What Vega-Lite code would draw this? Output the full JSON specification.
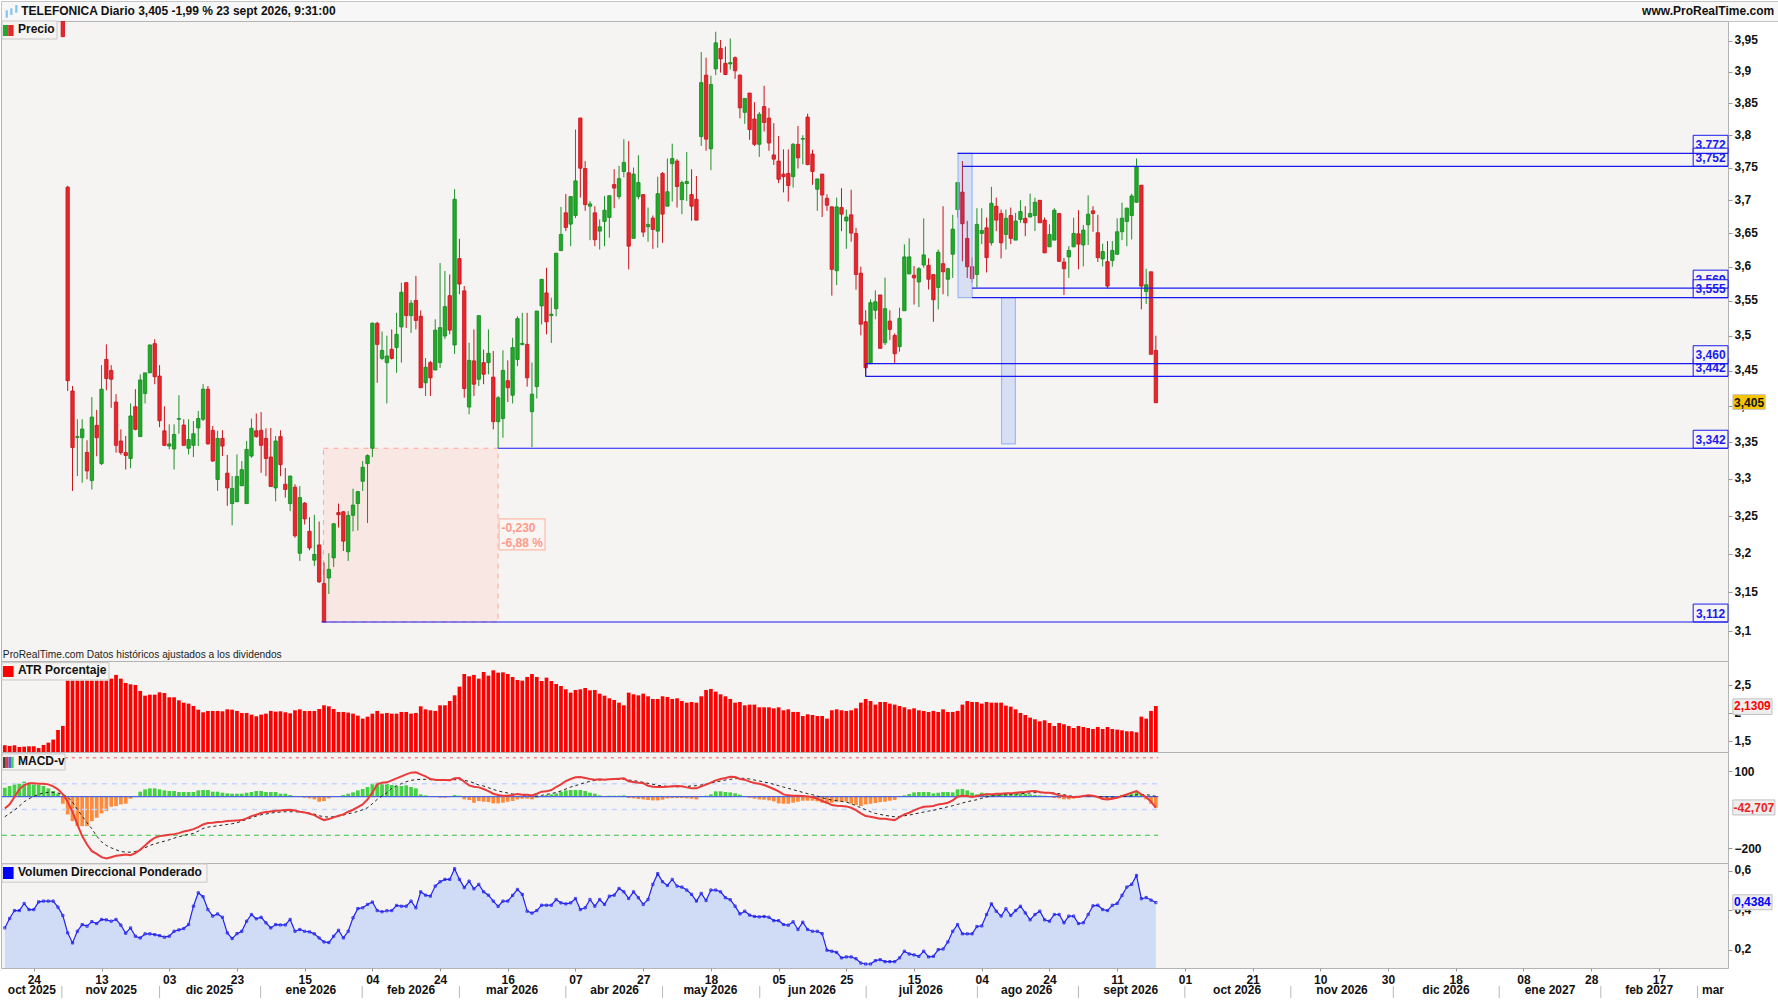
{"$schema":"https://vega.github.io/schema/vega-lite/v6.json","background":"#ffffff","padding":0,"spacing":0,"bounds":"flush","config":{"text":{"font":"Liberation Sans"},"axis":{"labelFont":"Liberation Sans","labelFontWeight":"bold","labelFontSize":12,"labelColor":"#111111","tickColor":"#999999","tickSize":4,"labelPadding":2,"domain":false,"grid":false,"labelBound":false,"labelFlush":false,"labelOverlap":"greedy","labelSeparation":0}},
"datasets":{
"ohlc":[{"i":12,"o":4.05,"h":4.1,"l":3.957,"c":3.957},{"i":13,"o":3.72,"h":3.722,"l":3.4215,"c":3.436},{"i":14,"o":3.4215,"h":3.4285,"l":3.284,"c":3.343},{"i":15,"o":3.357,"h":3.382,"l":3.304,"c":3.358},{"i":16,"o":3.3565,"h":3.382,"l":3.295,"c":3.3685},{"i":17,"o":3.3363,"h":3.353,"l":3.2996,"c":3.311},{"i":18,"o":3.298,"h":3.413,"l":3.286,"c":3.385},{"i":19,"o":3.3736,"h":3.395,"l":3.331,"c":3.3565},{"i":20,"o":3.321,"h":3.458,"l":3.319,"c":3.424},{"i":21,"o":3.4662,"h":3.4876,"l":3.4225,"c":3.439},{"i":22,"o":3.4505,"h":3.458,"l":3.398,"c":3.438},{"i":23,"o":3.406,"h":3.417,"l":3.336,"c":3.346},{"i":24,"o":3.352,"h":3.368,"l":3.333,"c":3.336},{"i":25,"o":3.336,"h":3.359,"l":3.313,"c":3.332},{"i":26,"o":3.328,"h":3.404,"l":3.3147,"c":3.3866},{"i":27,"o":3.3995,"h":3.424,"l":3.3667,"c":3.368},{"i":28,"o":3.358,"h":3.445,"l":3.358,"c":3.437},{"i":29,"o":3.418,"h":3.447,"l":3.404,"c":3.447},{"i":30,"o":3.447,"h":3.4876,"l":3.447,"c":3.4867},{"i":31,"o":3.4886,"h":3.495,"l":3.431,"c":3.4416},{"i":32,"o":3.4425,"h":3.458,"l":3.371,"c":3.38},{"i":33,"o":3.366,"h":3.4,"l":3.345,"c":3.346},{"i":34,"o":3.345,"h":3.375,"l":3.3405,"c":3.348},{"i":35,"o":3.341,"h":3.375,"l":3.313,"c":3.361},{"i":36,"o":3.382,"h":3.4155,"l":3.362,"c":3.383},{"i":37,"o":3.374,"h":3.382,"l":3.345,"c":3.346},{"i":38,"o":3.342,"h":3.382,"l":3.3336,"c":3.354},{"i":39,"o":3.346,"h":3.3796,"l":3.33,"c":3.362},{"i":40,"o":3.37,"h":3.3935,"l":3.345,"c":3.383},{"i":41,"o":3.382,"h":3.431,"l":3.3796,"c":3.424},{"i":42,"o":3.424,"h":3.4285,"l":3.347,"c":3.348},{"i":43,"o":3.3667,"h":3.3727,"l":3.3236,"c":3.3245},{"i":44,"o":3.2995,"h":3.366,"l":3.284,"c":3.3555},{"i":45,"o":3.3555,"h":3.367,"l":3.3313,"c":3.345},{"i":46,"o":3.308,"h":3.333,"l":3.264,"c":3.288},{"i":47,"o":3.267,"h":3.304,"l":3.238,"c":3.2874},{"i":48,"o":3.2694,"h":3.3336,"l":3.2694,"c":3.3036},{"i":49,"o":3.291,"h":3.3245,"l":3.2905,"c":3.3127},{"i":50,"o":3.267,"h":3.352,"l":3.267,"c":3.3405},{"i":51,"o":3.3313,"h":3.383,"l":3.329,"c":3.3694},{"i":52,"o":3.366,"h":3.39,"l":3.3565,"c":3.358},{"i":53,"o":3.3667,"h":3.392,"l":3.3085,"c":3.346},{"i":54,"o":3.3555,"h":3.3694,"l":3.304,"c":3.328},{"i":55,"o":3.33,"h":3.37,"l":3.29,"c":3.29},{"i":56,"o":3.288,"h":3.359,"l":3.27,"c":3.352},{"i":57,"o":3.358,"h":3.3667,"l":3.304,"c":3.3195},{"i":58,"o":3.293,"h":3.315,"l":3.275,"c":3.286},{"i":59,"o":3.267,"h":3.305,"l":3.257,"c":3.304},{"i":60,"o":3.289,"h":3.293,"l":3.2215,"c":3.224},{"i":61,"o":3.201,"h":3.2905,"l":3.191,"c":3.275},{"i":62,"o":3.2676,"h":3.269,"l":3.239,"c":3.2465},{"i":63,"o":3.23,"h":3.2487,"l":3.205,"c":3.208},{"i":64,"o":3.192,"h":3.252,"l":3.1845,"c":3.1996},{"i":65,"o":3.212,"h":3.243,"l":3.1625,"c":3.1637},{"i":66,"o":3.1615,"h":3.189,"l":3.112,"c":3.112},{"i":67,"o":3.1687,"h":3.201,"l":3.148,"c":3.18},{"i":68,"o":3.195,"h":3.241,"l":3.183,"c":3.24},{"i":69,"o":3.255,"h":3.267,"l":3.235,"c":3.252},{"i":70,"o":3.256,"h":3.257,"l":3.204,"c":3.217},{"i":71,"o":3.203,"h":3.257,"l":3.191,"c":3.251},{"i":72,"o":3.2513,"h":3.287,"l":3.23,"c":3.265},{"i":73,"o":3.267,"h":3.284,"l":3.231,"c":3.283},{"i":74,"o":3.297,"h":3.3245,"l":3.284,"c":3.316},{"i":75,"o":3.321,"h":3.3336,"l":3.241,"c":3.332},{"i":76,"o":3.342,"h":3.519,"l":3.33,"c":3.518},{"i":77,"o":3.5178,"h":3.52,"l":3.433,"c":3.4876},{"i":78,"o":3.4676,"h":3.506,"l":3.465,"c":3.479},{"i":79,"o":3.4615,"h":3.5,"l":3.404,"c":3.471},{"i":80,"o":3.4805,"h":3.509,"l":3.466,"c":3.4676},{"i":81,"o":3.483,"h":3.533,"l":3.447,"c":3.502},{"i":82,"o":3.5126,"h":3.577,"l":3.4615,"c":3.563},{"i":83,"o":3.577,"h":3.578,"l":3.511,"c":3.529},{"i":84,"o":3.529,"h":3.5515,"l":3.504,"c":3.547},{"i":85,"o":3.551,"h":3.587,"l":3.509,"c":3.522},{"i":86,"o":3.528,"h":3.5365,"l":3.426,"c":3.426},{"i":87,"o":3.433,"h":3.468,"l":3.4145,"c":3.455},{"i":88,"o":3.4615,"h":3.464,"l":3.4145,"c":3.44},{"i":89,"o":3.451,"h":3.5236,"l":3.451,"c":3.508},{"i":90,"o":3.4615,"h":3.606,"l":3.454,"c":3.5116},{"i":91,"o":3.4995,"h":3.594,"l":3.495,"c":3.542},{"i":92,"o":3.558,"h":3.589,"l":3.502,"c":3.508},{"i":93,"o":3.4867,"h":3.717,"l":3.474,"c":3.7015},{"i":94,"o":3.6125,"h":3.642,"l":3.56,"c":3.575},{"i":95,"o":3.565,"h":3.572,"l":3.412,"c":3.425},{"i":96,"o":3.399,"h":3.49,"l":3.389,"c":3.4648},{"i":97,"o":3.464,"h":3.509,"l":3.4145,"c":3.431},{"i":98,"o":3.438,"h":3.529,"l":3.4285,"c":3.529},{"i":99,"o":3.4615,"h":3.48,"l":3.431,"c":3.445},{"i":100,"o":3.4615,"h":3.509,"l":3.445,"c":3.4747},{"i":101,"o":3.441,"h":3.478,"l":3.368,"c":3.3787},{"i":102,"o":3.3787,"h":3.4145,"l":3.342,"c":3.412},{"i":103,"o":3.383,"h":3.479,"l":3.3565,"c":3.4505},{"i":104,"o":3.436,"h":3.4648,"l":3.406,"c":3.426},{"i":105,"o":3.4155,"h":3.497,"l":3.404,"c":3.483},{"i":106,"o":3.466,"h":3.528,"l":3.4565,"c":3.5246},{"i":107,"o":3.4875,"h":3.533,"l":3.486,"c":3.489},{"i":108,"o":3.4876,"h":3.533,"l":3.4276,"c":3.44},{"i":109,"o":3.3926,"h":3.4615,"l":3.3436,"c":3.417},{"i":110,"o":3.4276,"h":3.5356,"l":3.411,"c":3.5356},{"i":111,"o":3.543,"h":3.582,"l":3.5163,"c":3.582},{"i":112,"o":3.562,"h":3.599,"l":3.502,"c":3.52},{"i":113,"o":3.529,"h":3.555,"l":3.4895,"c":3.531},{"i":114,"o":3.539,"h":3.6205,"l":3.528,"c":3.6205},{"i":115,"o":3.6245,"h":3.69,"l":3.6235,"c":3.6485},{"i":116,"o":3.681,"h":3.7095,"l":3.6535,"c":3.659},{"i":117,"o":3.664,"h":3.7056,"l":3.631,"c":3.7056},{"i":118,"o":3.677,"h":3.809,"l":3.673,"c":3.7296},{"i":119,"o":3.827,"h":3.8275,"l":3.704,"c":3.749},{"i":120,"o":3.7485,"h":3.76,"l":3.684,"c":3.6935},{"i":121,"o":3.691,"h":3.699,"l":3.64,"c":3.6945},{"i":122,"o":3.681,"h":3.691,"l":3.631,"c":3.6406},{"i":123,"o":3.6535,"h":3.671,"l":3.626,"c":3.66},{"i":124,"o":3.668,"h":3.7066,"l":3.631,"c":3.685},{"i":125,"o":3.674,"h":3.707,"l":3.6436,"c":3.707},{"i":126,"o":3.724,"h":3.7475,"l":3.688,"c":3.7186},{"i":127,"o":3.7056,"h":3.7526,"l":3.7015,"c":3.733},{"i":128,"o":3.744,"h":3.794,"l":3.735,"c":3.758},{"i":129,"o":3.742,"h":3.791,"l":3.5965,"c":3.631},{"i":130,"o":3.6426,"h":3.75,"l":3.6426,"c":3.74},{"i":131,"o":3.7056,"h":3.769,"l":3.7015,"c":3.727},{"i":132,"o":3.7087,"h":3.7087,"l":3.6446,"c":3.652},{"i":133,"o":3.66,"h":3.689,"l":3.6376,"c":3.6636},{"i":134,"o":3.673,"h":3.677,"l":3.627,"c":3.656},{"i":135,"o":3.6535,"h":3.736,"l":3.6287,"c":3.71},{"i":136,"o":3.741,"h":3.743,"l":3.636,"c":3.679},{"i":137,"o":3.691,"h":3.764,"l":3.691,"c":3.713},{"i":138,"o":3.756,"h":3.787,"l":3.698,"c":3.764},{"i":139,"o":3.76,"h":3.763,"l":3.689,"c":3.721},{"i":140,"o":3.701,"h":3.73,"l":3.679,"c":3.727},{"i":141,"o":3.7255,"h":3.774,"l":3.699,"c":3.7286},{"i":142,"o":3.7087,"h":3.7475,"l":3.669,"c":3.691},{"i":143,"o":3.7015,"h":3.737,"l":3.67,"c":3.67},{"i":144,"o":3.798,"h":3.932,"l":3.7835,"c":3.883},{"i":145,"o":3.895,"h":3.923,"l":3.776,"c":3.794},{"i":146,"o":3.779,"h":3.894,"l":3.746,"c":3.88},{"i":147,"o":3.905,"h":3.965,"l":3.895,"c":3.947},{"i":148,"o":3.938,"h":3.9515,"l":3.899,"c":3.921},{"i":149,"o":3.914,"h":3.941,"l":3.895,"c":3.896},{"i":150,"o":3.913,"h":3.954,"l":3.904,"c":3.915},{"i":151,"o":3.923,"h":3.925,"l":3.889,"c":3.902},{"i":152,"o":3.895,"h":3.896,"l":3.8265,"c":3.843},{"i":153,"o":3.836,"h":3.858,"l":3.818,"c":3.858},{"i":154,"o":3.8665,"h":3.8665,"l":3.793,"c":3.809},{"i":155,"o":3.8255,"h":3.852,"l":3.7835,"c":3.786},{"i":156,"o":3.786,"h":3.8365,"l":3.7665,"c":3.833},{"i":157,"o":3.845,"h":3.878,"l":3.806,"c":3.82},{"i":158,"o":3.827,"h":3.843,"l":3.776,"c":3.788},{"i":159,"o":3.7695,"h":3.819,"l":3.754,"c":3.763},{"i":160,"o":3.76,"h":3.799,"l":3.726,"c":3.732},{"i":161,"o":3.74,"h":3.778,"l":3.712,"c":3.736},{"i":162,"o":3.741,"h":3.778,"l":3.698,"c":3.7225},{"i":163,"o":3.736,"h":3.788,"l":3.7194,"c":3.786},{"i":164,"o":3.786,"h":3.8146,"l":3.7485,"c":3.765},{"i":165,"o":3.794,"h":3.8,"l":3.755,"c":3.795},{"i":166,"o":3.8285,"h":3.834,"l":3.7536,"c":3.7546},{"i":167,"o":3.771,"h":3.7775,"l":3.7235,"c":3.744},{"i":168,"o":3.7168,"h":3.7326,"l":3.684,"c":3.7326},{"i":169,"o":3.74,"h":3.74,"l":3.6747,"c":3.708},{"i":170,"o":3.703,"h":3.709,"l":3.684,"c":3.6925},{"i":171,"o":3.69,"h":3.691,"l":3.558,"c":3.5966},{"i":172,"o":3.5946,"h":3.704,"l":3.5735,"c":3.69},{"i":173,"o":3.689,"h":3.7184,"l":3.6535,"c":3.679},{"i":174,"o":3.6687,"h":3.686,"l":3.627,"c":3.6747},{"i":175,"o":3.678,"h":3.716,"l":3.6376,"c":3.6505},{"i":176,"o":3.65,"h":3.6585,"l":3.5667,"c":3.589},{"i":177,"o":3.591,"h":3.6005,"l":3.5005,"c":3.5165},{"i":178,"o":3.5201,"h":3.5367,"l":3.442,"c":3.4543},{"i":179,"o":3.46,"h":3.5526,"l":3.46,"c":3.5477},{"i":180,"o":3.5367,"h":3.5658,"l":3.5236,"c":3.5491},{"i":181,"o":3.559,"h":3.559,"l":3.4819,"c":3.4819},{"i":182,"o":3.4899,"h":3.5843,"l":3.4866,"c":3.539},{"i":183,"o":3.5211,"h":3.5367,"l":3.4937,"c":3.5091},{"i":184,"o":3.5004,"h":3.5033,"l":3.4595,"c":3.4742},{"i":185,"o":3.4842,"h":3.5404,"l":3.4771,"c":3.525},{"i":186,"o":3.536,"h":3.6336,"l":3.536,"c":3.615},{"i":187,"o":3.59,"h":3.6426,"l":3.589,"c":3.615},{"i":188,"o":3.588,"h":3.6015,"l":3.545,"c":3.584},{"i":189,"o":3.578,"h":3.6,"l":3.5414,"c":3.5975},{"i":190,"o":3.603,"h":3.6727,"l":3.599,"c":3.618},{"i":191,"o":3.6025,"h":3.613,"l":3.567,"c":3.582},{"i":192,"o":3.589,"h":3.589,"l":3.52,"c":3.552},{"i":193,"o":3.57,"h":3.626,"l":3.538,"c":3.622},{"i":194,"o":3.605,"h":3.691,"l":3.56,"c":3.593},{"i":195,"o":3.582,"h":3.599,"l":3.557,"c":3.5975},{"i":196,"o":3.619,"h":3.678,"l":3.584,"c":3.6565},{"i":197,"o":3.686,"h":3.727,"l":3.674,"c":3.727},{"i":198,"o":3.7125,"h":3.76,"l":3.6085,"c":3.6645},{"i":199,"o":3.6426,"h":3.669,"l":3.584,"c":3.6005},{"i":200,"o":3.6005,"h":3.6145,"l":3.577,"c":3.583},{"i":201,"o":3.589,"h":3.688,"l":3.57,"c":3.6636},{"i":202,"o":3.65,"h":3.688,"l":3.634,"c":3.6545},{"i":203,"o":3.6585,"h":3.674,"l":3.592,"c":3.614},{"i":204,"o":3.636,"h":3.7204,"l":3.632,"c":3.6955},{"i":205,"o":3.691,"h":3.704,"l":3.6535,"c":3.67},{"i":206,"o":3.68,"h":3.686,"l":3.6127,"c":3.636},{"i":207,"o":3.6485,"h":3.686,"l":3.626,"c":3.6727},{"i":208,"o":3.677,"h":3.689,"l":3.634,"c":3.6426},{"i":209,"o":3.64,"h":3.681,"l":3.64,"c":3.6687},{"i":210,"o":3.671,"h":3.7,"l":3.666,"c":3.683},{"i":211,"o":3.6727,"h":3.691,"l":3.646,"c":3.666},{"i":212,"o":3.6747,"h":3.71,"l":3.674,"c":3.68},{"i":213,"o":3.677,"h":3.704,"l":3.6535,"c":3.697},{"i":214,"o":3.7,"h":3.7,"l":3.666,"c":3.666},{"i":215,"o":3.67,"h":3.674,"l":3.621,"c":3.621},{"i":216,"o":3.63,"h":3.6636,"l":3.63,"c":3.6485},{"i":217,"o":3.64,"h":3.688,"l":3.64,"c":3.685},{"i":218,"o":3.68,"h":3.68,"l":3.6075,"c":3.6085},{"i":219,"o":3.6075,"h":3.6135,"l":3.559,"c":3.5975},{"i":220,"o":3.615,"h":3.631,"l":3.584,"c":3.6247},{"i":221,"o":3.63,"h":3.6737,"l":3.6295,"c":3.65},{"i":222,"o":3.6495,"h":3.685,"l":3.5966,"c":3.634},{"i":223,"o":3.6327,"h":3.6627,"l":3.601,"c":3.655},{"i":224,"o":3.663,"h":3.7076,"l":3.6327,"c":3.679},{"i":225,"o":3.684,"h":3.691,"l":3.6525,"c":3.68},{"i":226,"o":3.651,"h":3.678,"l":3.6075,"c":3.614},{"i":227,"o":3.612,"h":3.6347,"l":3.601,"c":3.623},{"i":228,"o":3.608,"h":3.6386,"l":3.5685,"c":3.572},{"i":229,"o":3.6096,"h":3.6386,"l":3.6005,"c":3.6247},{"i":230,"o":3.619,"h":3.6727,"l":3.618,"c":3.6525},{"i":231,"o":3.6525,"h":3.6965,"l":3.64,"c":3.673},{"i":232,"o":3.668,"h":3.689,"l":3.631,"c":3.688},{"i":233,"o":3.677,"h":3.71,"l":3.641,"c":3.7066},{"i":234,"o":3.697,"h":3.764,"l":3.6965,"c":3.7515},{"i":235,"o":3.723,"h":3.723,"l":3.538,"c":3.572},{"i":236,"o":3.564,"h":3.5975,"l":3.546,"c":3.574},{"i":237,"o":3.593,"h":3.593,"l":3.4734,"c":3.4734},{"i":238,"o":3.479,"h":3.5,"l":3.405,"c":3.405}],
"ind":[{"i":0,"a":1.429,"m":-45.5,"s":-78,"h":35.1,"v":0.31},{"i":1,"a":1.417,"m":-29.9,"s":-65,"h":41.6,"v":0.358},{"i":2,"a":1.429,"m":-1.3,"s":-52,"h":48.1,"v":0.398},{"i":3,"a":1.399,"m":28.6,"s":-36.4,"h":50.7,"v":0.398},{"i":4,"a":1.405,"m":45.5,"s":-19.5,"h":58.5,"v":0.434},{"i":5,"a":1.411,"m":52,"s":-7.8,"h":52,"v":0.403},{"i":6,"a":1.411,"m":52,"s":1.3,"h":48.1,"v":0.403},{"i":7,"a":1.381,"m":50.7,"s":9.1,"h":45.5,"v":0.442},{"i":8,"a":1.435,"m":50.7,"s":14.3,"h":41.6,"v":0.446},{"i":9,"a":1.476,"m":48.1,"s":16.9,"h":32.5,"v":0.446},{"i":10,"a":1.53,"m":40.3,"s":16.9,"h":22.1,"v":0.446},{"i":11,"a":1.702,"m":28.6,"s":14.3,"h":11.7,"v":0.415},{"i":12,"a":1.774,"m":9.1,"s":9.1,"h":-27.3,"v":0.373},{"i":13,"a":2.583,"m":-19.5,"s":-1.3,"h":-68.9,"v":0.285},{"i":14,"a":2.583,"m":-58.5,"s":-20.8,"h":-94.9,"v":0.234},{"i":15,"a":2.583,"m":-107.9,"s":-49.4,"h":-114.4,"v":0.293},{"i":16,"a":2.583,"m":-153.4,"s":-75.4,"h":-114.4,"v":0.327},{"i":17,"a":2.583,"m":-185.9,"s":-101.4,"h":-114.4,"v":0.319},{"i":18,"a":2.583,"m":-211.9,"s":-124.8,"h":-94.9,"v":0.342},{"i":19,"a":2.583,"m":-222.3,"s":-153.4,"h":-81.9,"v":0.332},{"i":20,"a":2.583,"m":-235.3,"s":-175.5,"h":-65,"v":0.353},{"i":21,"a":2.583,"m":-240.5,"s":-189.8,"h":-55.9,"v":0.351},{"i":22,"a":2.619,"m":-235.3,"s":-198.9,"h":-39,"v":0.344},{"i":23,"a":2.685,"m":-230.1,"s":-206.7,"h":-36.4,"v":0.353},{"i":24,"a":2.619,"m":-227.5,"s":-213.2,"h":-29.9,"v":0.324},{"i":25,"a":2.542,"m":-224.9,"s":-215.8,"h":-27.3,"v":0.283},{"i":26,"a":2.518,"m":-227.5,"s":-215.8,"h":-7.8,"v":0.31},{"i":27,"a":2.506,"m":-219.7,"s":-213.2,"h":-1.3,"v":0.268},{"i":28,"a":2.399,"m":-206.7,"s":-206.7,"h":19.5,"v":0.259},{"i":29,"a":2.315,"m":-189.8,"s":-198.9,"h":28.6,"v":0.28},{"i":30,"a":2.333,"m":-172.9,"s":-189.8,"h":32.5,"v":0.28},{"i":31,"a":2.333,"m":-159.9,"s":-183.3,"h":32.5,"v":0.276},{"i":32,"a":2.375,"m":-153.4,"s":-178.1,"h":28.6,"v":0.271},{"i":33,"a":2.363,"m":-150.8,"s":-172.9,"h":24.7,"v":0.263},{"i":34,"a":2.286,"m":-148.2,"s":-167.7,"h":22.1,"v":0.268},{"i":35,"a":2.286,"m":-145.6,"s":-161.2,"h":22.1,"v":0.293},{"i":36,"a":2.232,"m":-141.7,"s":-156,"h":18.2,"v":0.3},{"i":37,"a":2.19,"m":-135.2,"s":-150.8,"h":18.2,"v":0.307},{"i":38,"a":2.173,"m":-131.3,"s":-146.9,"h":18.2,"v":0.327},{"i":39,"a":2.131,"m":-126.1,"s":-143,"h":18.2,"v":0.42},{"i":40,"a":2.065,"m":-118.3,"s":-133.9,"h":24.7,"v":0.488},{"i":41,"a":2.018,"m":-107.9,"s":-123.5,"h":26,"v":0.468},{"i":42,"a":2.042,"m":-102.7,"s":-118.3,"h":26,"v":0.403},{"i":43,"a":2.042,"m":-101.4,"s":-115.7,"h":19.5,"v":0.37},{"i":44,"a":2.042,"m":-98.8,"s":-113.1,"h":19.5,"v":0.381},{"i":45,"a":2.036,"m":-97.5,"s":-110.5,"h":15.6,"v":0.364},{"i":46,"a":2.071,"m":-94.9,"s":-107.9,"h":13,"v":0.285},{"i":47,"a":2.065,"m":-93.6,"s":-105.3,"h":11.7,"v":0.256},{"i":48,"a":2.042,"m":-92.3,"s":-101.4,"h":11.7,"v":0.281},{"i":49,"a":2.006,"m":-91,"s":-94.9,"h":11.7,"v":0.293},{"i":50,"a":2.006,"m":-84.5,"s":-88.4,"h":15.6,"v":0.344},{"i":51,"a":1.976,"m":-75.4,"s":-81.9,"h":18.2,"v":0.378},{"i":52,"a":1.946,"m":-70.2,"s":-75.4,"h":22.1,"v":0.356},{"i":53,"a":1.976,"m":-63.7,"s":-70.2,"h":22.1,"v":0.364},{"i":54,"a":1.994,"m":-59.8,"s":-67.6,"h":18.2,"v":0.336},{"i":55,"a":2.042,"m":-57.2,"s":-63.7,"h":18.2,"v":0.31},{"i":56,"a":2.03,"m":-54.6,"s":-61.1,"h":18.2,"v":0.327},{"i":57,"a":2.036,"m":-53.3,"s":-59.8,"h":11.7,"v":0.325},{"i":58,"a":2.018,"m":-52,"s":-58.5,"h":11.7,"v":0.325},{"i":59,"a":2,"m":-50.7,"s":-58.5,"h":6.5,"v":0.353},{"i":60,"a":2.054,"m":-53.3,"s":-58.5,"h":0,"v":0.293},{"i":61,"a":2.071,"m":-58.5,"s":-59.8,"h":0,"v":0.302},{"i":62,"a":2.042,"m":-61.1,"s":-61.1,"h":-3.9,"v":0.293},{"i":63,"a":2.042,"m":-66.3,"s":-63.7,"h":-6.5,"v":0.29},{"i":64,"a":2.042,"m":-71.5,"s":-67.6,"h":-10.4,"v":0.28},{"i":65,"a":2.077,"m":-81.9,"s":-74.1,"h":-19.5,"v":0.259},{"i":66,"a":2.143,"m":-91,"s":-78,"h":-16.9,"v":0.239},{"i":67,"a":2.125,"m":-87.1,"s":-79.3,"h":-6.5,"v":0.236},{"i":68,"a":2.077,"m":-80.6,"s":-78,"h":-1.3,"v":0.268},{"i":69,"a":2.024,"m":-74.1,"s":-75.4,"h":2.6,"v":0.298},{"i":70,"a":2.024,"m":-68.9,"s":-71.5,"h":6.5,"v":0.259},{"i":71,"a":2.012,"m":-58.5,"s":-66.3,"h":11.7,"v":0.293},{"i":72,"a":1.994,"m":-50.7,"s":-62.4,"h":16.9,"v":0.361},{"i":73,"a":1.958,"m":-40.3,"s":-57.2,"h":24.7,"v":0.408},{"i":74,"a":1.905,"m":-29.9,"s":-50.7,"h":29.9,"v":0.412},{"i":75,"a":1.94,"m":-10.4,"s":-42.9,"h":37.7,"v":0.429},{"i":76,"a":1.994,"m":15.6,"s":-27.3,"h":50.7,"v":0.441},{"i":77,"a":2.042,"m":48.1,"s":-10.4,"h":54.6,"v":0.398},{"i":78,"a":1.994,"m":54.6,"s":2.6,"h":52,"v":0.392},{"i":79,"a":2.006,"m":55.9,"s":15.6,"h":50.7,"v":0.397},{"i":80,"a":1.994,"m":63.7,"s":32.5,"h":45.5,"v":0.398},{"i":81,"a":1.994,"m":71.5,"s":42.9,"h":41.6,"v":0.424},{"i":82,"a":2.024,"m":79.3,"s":50.7,"h":41.6,"v":0.42},{"i":83,"a":2.024,"m":87.1,"s":58.5,"h":44.2,"v":0.42},{"i":84,"a":1.994,"m":93.6,"s":63.7,"h":37.7,"v":0.446},{"i":85,"a":2.006,"m":94.9,"s":66.3,"h":32.5,"v":0.412},{"i":86,"a":2.125,"m":87.1,"s":67.6,"h":9.1,"v":0.493},{"i":87,"a":2.071,"m":79.3,"s":67.6,"h":5.2,"v":0.476},{"i":88,"a":2.054,"m":68.9,"s":66.3,"h":1.3,"v":0.471},{"i":89,"a":2.042,"m":66.3,"s":65,"h":0,"v":0.522},{"i":90,"a":2.143,"m":65,"s":63.7,"h":-3.9,"v":0.544},{"i":91,"a":2.143,"m":65,"s":63.7,"h":-3.9,"v":0.556},{"i":92,"a":2.22,"m":63.7,"s":65,"h":-1.3,"v":0.556},{"i":93,"a":2.321,"m":71.5,"s":66.3,"h":6.5,"v":0.61},{"i":94,"a":2.476,"m":72.8,"s":66.3,"h":3.9,"v":0.556},{"i":95,"a":2.702,"m":58.5,"s":63.7,"h":-10.4,"v":0.514},{"i":96,"a":2.661,"m":44.2,"s":59.8,"h":-13,"v":0.547},{"i":97,"a":2.685,"m":39,"s":53.3,"h":-23.4,"v":0.508},{"i":98,"a":2.619,"m":36.4,"s":45.5,"h":-16.9,"v":0.531},{"i":99,"a":2.738,"m":29.9,"s":41.6,"h":-19.5,"v":0.493},{"i":100,"a":2.673,"m":22.1,"s":35.1,"h":-20.8,"v":0.476},{"i":101,"a":2.768,"m":11.7,"s":28.6,"h":-26,"v":0.446},{"i":102,"a":2.726,"m":6.5,"s":22.1,"h":-26,"v":0.419},{"i":103,"a":2.732,"m":3.9,"s":18.2,"h":-23.4,"v":0.446},{"i":104,"a":2.702,"m":3.9,"s":14.3,"h":-19.5,"v":0.446},{"i":105,"a":2.649,"m":6.5,"s":10.4,"h":-16.9,"v":0.475},{"i":106,"a":2.595,"m":10.4,"s":9.1,"h":-10.4,"v":0.505},{"i":107,"a":2.583,"m":7.8,"s":6.5,"h":-7.8,"v":0.48},{"i":108,"a":2.649,"m":7.8,"s":5.2,"h":-7.8,"v":0.395},{"i":109,"a":2.702,"m":5.2,"s":3.9,"h":-10.4,"v":0.385},{"i":110,"a":2.649,"m":11.7,"s":2.6,"h":-3.9,"v":0.398},{"i":111,"a":2.577,"m":19.5,"s":5.2,"h":2.6,"v":0.425},{"i":112,"a":2.637,"m":20.8,"s":9.1,"h":6.5,"v":0.425},{"i":113,"a":2.577,"m":26,"s":11.7,"h":9.1,"v":0.425},{"i":114,"a":2.524,"m":37.7,"s":16.9,"h":13,"v":0.454},{"i":115,"a":2.488,"m":48.1,"s":22.1,"h":19.5,"v":0.437},{"i":116,"a":2.429,"m":61.1,"s":29.9,"h":24.7,"v":0.432},{"i":117,"a":2.369,"m":68.9,"s":37.7,"h":26,"v":0.437},{"i":118,"a":2.417,"m":75.4,"s":42.9,"h":26,"v":0.459},{"i":119,"a":2.429,"m":76.7,"s":49.4,"h":26,"v":0.403},{"i":120,"a":2.452,"m":72.8,"s":54.6,"h":22.1,"v":0.412},{"i":121,"a":2.411,"m":68.9,"s":59.8,"h":15.6,"v":0.454},{"i":122,"a":2.417,"m":66.3,"s":63.7,"h":11.7,"v":0.42},{"i":123,"a":2.351,"m":67.6,"s":65,"h":5.2,"v":0.454},{"i":124,"a":2.315,"m":66.3,"s":66.3,"h":2.6,"v":0.429},{"i":125,"a":2.268,"m":67.6,"s":67.6,"h":3.9,"v":0.471},{"i":126,"a":2.238,"m":68.9,"s":67.6,"h":3.9,"v":0.476},{"i":127,"a":2.19,"m":70.2,"s":67.6,"h":3.9,"v":0.51},{"i":128,"a":2.143,"m":71.5,"s":67.6,"h":5.2,"v":0.493},{"i":129,"a":2.369,"m":59.8,"s":65,"h":-5.2,"v":0.459},{"i":130,"a":2.339,"m":57.2,"s":62.4,"h":-6.5,"v":0.493},{"i":131,"a":2.321,"m":54.6,"s":59.8,"h":-9.1,"v":0.463},{"i":132,"a":2.351,"m":53.3,"s":55.9,"h":-10.4,"v":0.429},{"i":133,"a":2.304,"m":42.9,"s":52,"h":-13,"v":0.454},{"i":134,"a":2.256,"m":39,"s":48.1,"h":-14.3,"v":0.531},{"i":135,"a":2.256,"m":37.7,"s":44.2,"h":-14.3,"v":0.585},{"i":136,"a":2.304,"m":37.7,"s":41.6,"h":-11.7,"v":0.544},{"i":137,"a":2.292,"m":39,"s":40.3,"h":-6.5,"v":0.525},{"i":138,"a":2.256,"m":40.3,"s":39,"h":-5.2,"v":0.556},{"i":139,"a":2.268,"m":41.6,"s":39,"h":-5.2,"v":0.522},{"i":140,"a":2.22,"m":40.3,"s":39,"h":-5.2,"v":0.517},{"i":141,"a":2.19,"m":36.4,"s":40.3,"h":-6.5,"v":0.502},{"i":142,"a":2.202,"m":32.5,"s":41.6,"h":-7.8,"v":0.48},{"i":143,"a":2.19,"m":32.5,"s":42.9,"h":-10.4,"v":0.446},{"i":144,"a":2.304,"m":40.3,"s":45.5,"h":0,"v":0.485},{"i":145,"a":2.417,"m":46.8,"s":49.4,"h":3.9,"v":0.449},{"i":146,"a":2.435,"m":54.6,"s":53.3,"h":9.1,"v":0.502},{"i":147,"a":2.387,"m":63.7,"s":57.2,"h":20.8,"v":0.502},{"i":148,"a":2.339,"m":68.9,"s":61.1,"h":20.8,"v":0.493},{"i":149,"a":2.304,"m":72.8,"s":65,"h":18.2,"v":0.463},{"i":150,"a":2.256,"m":78,"s":67.6,"h":16.9,"v":0.453},{"i":151,"a":2.19,"m":76.7,"s":70.2,"h":13,"v":0.42},{"i":152,"a":2.202,"m":68.9,"s":71.5,"h":7.8,"v":0.381},{"i":153,"a":2.143,"m":66.3,"s":71.5,"h":1.3,"v":0.395},{"i":154,"a":2.155,"m":58.5,"s":68.9,"h":-3.9,"v":0.375},{"i":155,"a":2.155,"m":53.3,"s":65,"h":-7.8,"v":0.368},{"i":156,"a":2.107,"m":50.7,"s":61.1,"h":-10.4,"v":0.366},{"i":157,"a":2.107,"m":45.5,"s":57.2,"h":-11.7,"v":0.368},{"i":158,"a":2.107,"m":37.7,"s":53.3,"h":-14.3,"v":0.364},{"i":159,"a":2.089,"m":29.9,"s":48.1,"h":-18.2,"v":0.347},{"i":160,"a":2.107,"m":20.8,"s":42.9,"h":-26,"v":0.347},{"i":161,"a":2.054,"m":9.1,"s":37.7,"h":-27.3,"v":0.327},{"i":162,"a":2.071,"m":5.2,"s":32.5,"h":-27.3,"v":0.324},{"i":163,"a":2.024,"m":3.9,"s":27.3,"h":-23.4,"v":0.341},{"i":164,"a":2.024,"m":3.9,"s":22.1,"h":-19.5,"v":0.302},{"i":165,"a":1.952,"m":2.6,"s":16.9,"h":-15.6,"v":0.339},{"i":166,"a":1.982,"m":1.3,"s":11.7,"h":-15.6,"v":0.302},{"i":167,"a":1.97,"m":-1.3,"s":7.8,"h":-15.6,"v":0.293},{"i":168,"a":1.952,"m":-7.8,"s":2.6,"h":-18.2,"v":0.293},{"i":169,"a":1.952,"m":-16.9,"s":-3.9,"h":-23.4,"v":0.281},{"i":170,"a":1.905,"m":-23.4,"s":-9.1,"h":-27.3,"v":0.197},{"i":171,"a":2.054,"m":-32.5,"s":-13,"h":-23.4,"v":0.192},{"i":172,"a":2.071,"m":-35.1,"s":-15.6,"h":-19.5,"v":0.186},{"i":173,"a":2.054,"m":-36.4,"s":-18.2,"h":-19.5,"v":0.158},{"i":174,"a":2.042,"m":-37.7,"s":-20.8,"h":-19.5,"v":0.163},{"i":175,"a":2.054,"m":-42.9,"s":-27.3,"h":-27.3,"v":0.163},{"i":176,"a":2.089,"m":-52,"s":-35.1,"h":-32.5,"v":0.154},{"i":177,"a":2.19,"m":-65,"s":-42.9,"h":-36.4,"v":0.132},{"i":178,"a":2.256,"m":-75.4,"s":-50.7,"h":-29.9,"v":0.127},{"i":179,"a":2.22,"m":-78,"s":-58.5,"h":-27.3,"v":0.127},{"i":180,"a":2.155,"m":-81.9,"s":-65,"h":-24.7,"v":0.144},{"i":181,"a":2.202,"m":-85.8,"s":-68.9,"h":-20.8,"v":0.149},{"i":182,"a":2.202,"m":-85.8,"s":-72.8,"h":-19.5,"v":0.139},{"i":183,"a":2.173,"m":-88.4,"s":-75.4,"h":-15.6,"v":0.139},{"i":184,"a":2.155,"m":-91,"s":-78,"h":-13,"v":0.139},{"i":185,"a":2.131,"m":-79.3,"s":-76.7,"h":0,"v":0.158},{"i":186,"a":2.107,"m":-68.9,"s":-74.1,"h":5.2,"v":0.192},{"i":187,"a":2.071,"m":-62.4,"s":-71.5,"h":10.4,"v":0.178},{"i":188,"a":2.089,"m":-53.3,"s":-67.6,"h":16.9,"v":0.173},{"i":189,"a":2.054,"m":-45.5,"s":-63.7,"h":18.2,"v":0.166},{"i":190,"a":2.042,"m":-39,"s":-59.8,"h":18.2,"v":0.192},{"i":191,"a":2.024,"m":-37.7,"s":-55.9,"h":18.2,"v":0.163},{"i":192,"a":2.042,"m":-36.4,"s":-53.3,"h":13,"v":0.166},{"i":193,"a":2.024,"m":-29.9,"s":-48.1,"h":15.6,"v":0.2},{"i":194,"a":2.071,"m":-27.3,"s":-44.2,"h":18.2,"v":0.203},{"i":195,"a":2.024,"m":-23.4,"s":-39,"h":18.2,"v":0.239},{"i":196,"a":2.024,"m":-14.3,"s":-35.1,"h":16.9,"v":0.293},{"i":197,"a":2.042,"m":0,"s":-29.9,"h":28.6,"v":0.327},{"i":198,"a":2.155,"m":3.9,"s":-24.7,"h":29.9,"v":0.28},{"i":199,"a":2.22,"m":2.6,"s":-19.5,"h":24.7,"v":0.28},{"i":200,"a":2.202,"m":-1.3,"s":-15.6,"h":15.6,"v":0.28},{"i":201,"a":2.202,"m":2.6,"s":-11.7,"h":9.1,"v":0.317},{"i":202,"a":2.173,"m":6.5,"s":-6.5,"h":15.6,"v":0.32},{"i":203,"a":2.202,"m":9.1,"s":-1.3,"h":13,"v":0.378},{"i":204,"a":2.19,"m":9.1,"s":2.6,"h":9.1,"v":0.432},{"i":205,"a":2.19,"m":11.7,"s":5.2,"h":10.4,"v":0.395},{"i":206,"a":2.19,"m":11.7,"s":6.5,"h":11.7,"v":0.37},{"i":207,"a":2.137,"m":13,"s":7.8,"h":10.4,"v":0.407},{"i":208,"a":2.119,"m":13,"s":9.1,"h":11.7,"v":0.373},{"i":209,"a":2.071,"m":15.6,"s":10.4,"h":11.7,"v":0.398},{"i":210,"a":2.006,"m":16.9,"s":11.7,"h":13,"v":0.42},{"i":211,"a":1.97,"m":18.2,"s":13,"h":11.7,"v":0.386},{"i":212,"a":1.923,"m":20.8,"s":14.3,"h":9.1,"v":0.351},{"i":213,"a":1.893,"m":22.1,"s":15.6,"h":6.5,"v":0.378},{"i":214,"a":1.857,"m":18.2,"s":15.6,"h":5.2,"v":0.395},{"i":215,"a":1.875,"m":15.6,"s":15.6,"h":3.9,"v":0.351},{"i":216,"a":1.827,"m":15.6,"s":15.6,"h":-1.3,"v":0.344},{"i":217,"a":1.774,"m":11.7,"s":14.3,"h":-5.2,"v":0.378},{"i":218,"a":1.827,"m":5.2,"s":11.7,"h":-6.5,"v":0.378},{"i":219,"a":1.804,"m":2.6,"s":7.8,"h":-10.4,"v":0.336},{"i":220,"a":1.774,"m":0,"s":3.9,"h":-10.4,"v":0.37},{"i":221,"a":1.738,"m":-1.3,"s":1.3,"h":-7.8,"v":0.37},{"i":222,"a":1.774,"m":0,"s":1.3,"h":-5.2,"v":0.332},{"i":223,"a":1.756,"m":2.6,"s":1.3,"h":0,"v":0.336},{"i":224,"a":1.738,"m":5.2,"s":1.3,"h":5.2,"v":0.378},{"i":225,"a":1.72,"m":3.9,"s":1.3,"h":1.3,"v":0.422},{"i":226,"a":1.756,"m":-1.3,"s":1.3,"h":-5.2,"v":0.425},{"i":227,"a":1.72,"m":-9.1,"s":0,"h":-7.8,"v":0.403},{"i":228,"a":1.756,"m":-10.4,"s":-1.3,"h":-10.4,"v":0.398},{"i":229,"a":1.72,"m":-7.8,"s":-1.3,"h":-6.5,"v":0.425},{"i":230,"a":1.708,"m":-3.9,"s":-1.3,"h":-1.3,"v":0.434},{"i":231,"a":1.696,"m":2.6,"s":0,"h":6.5,"v":0.475},{"i":232,"a":1.679,"m":9.1,"s":1.3,"h":9.1,"v":0.517},{"i":233,"a":1.679,"m":15.6,"s":3.9,"h":11.7,"v":0.531},{"i":234,"a":1.661,"m":22.1,"s":7.8,"h":19.5,"v":0.576},{"i":235,"a":1.94,"m":9.1,"s":9.1,"h":9.1,"v":0.458},{"i":236,"a":1.905,"m":-1.3,"s":7.8,"h":-10.4,"v":0.464},{"i":237,"a":2.042,"m":-19.5,"s":5.2,"h":-27.3,"v":0.451},{"i":238,"a":2.1309,"m":-42.707,"s":1.3,"h":-42.707,"v":0.4384}],
"levelsA":[{"i0":197,"level":3.772,"top":3.8,"mid":3.785,"t":"3,772"},{"i0":200,"level":3.569,"top":3.5954,"mid":3.581,"t":"3,569"},{"i0":178,"level":3.442,"top":3.4675,"mid":3.454,"t":"3,442"}],
"levelsB":[{"i0":198,"level":3.752,"top":3.78,"mid":3.765,"t":"3,752"},{"i0":200,"level":3.555,"top":3.5813,"mid":3.567,"t":"3,555"},{"i0":178,"level":3.46,"top":3.4856,"mid":3.472,"t":"3,460"},{"i0":102,"level":3.342,"top":3.3668,"mid":3.3535,"t":"3,342"},{"i0":65.5,"level":3.112,"top":3.135,"mid":3.1227,"t":"3,112"}],
"months":[{"i":5.6,"t":"oct 2025"},{"i":22,"t":"nov 2025"},{"i":42.3,"t":"dic 2025"},{"i":63.3,"t":"ene 2026"},{"i":84,"t":"feb 2026"},{"i":104.9,"t":"mar 2026"},{"i":126.1,"t":"abr 2026"},{"i":145.9,"t":"may 2026"},{"i":166.9,"t":"jun 2026"},{"i":189.4,"t":"jul 2026"},{"i":211.3,"t":"ago 2026"},{"i":232.8,"t":"sept 2026"},{"i":254.8,"t":"oct 2026"},{"i":276.5,"t":"nov 2026"},{"i":298,"t":"dic 2026"},{"i":319.5,"t":"ene 2027"},{"i":340,"t":"feb 2027"},{"i":353.2,"t":"mar"}],
"seps":[{"i":11.8},{"i":32},{"i":52.9},{"i":73.9},{"i":94},{"i":116},{"i":136},{"i":156.1},{"i":178.1},{"i":201.1},{"i":222},{"i":244},{"i":265.9},{"i":287.1},{"i":309},{"i":330},{"i":350}],
"icon":[{"x":0.4,"y0":9.3,"y1":16.7},{"x":1.35,"y0":7.3,"y1":14},{"x":2.38,"y0":4,"y1":11.7}]
},
"vconcat":[
{"width":1778,"height":20,"view":{"fill":"#f7f7f7","stroke":"#c4c4c4"},"layer":[
{"data":{"name":"icon"},"mark":{"type":"rule","color":"#7fc4f5","strokeWidth":2.2},"encoding":{"x":{"field":"x","type":"quantitative","scale":{"domain":[-0.786,366.8],"nice":false,"zero":false},"axis":null},"y":{"field":"y0","type":"quantitative","scale":{"domain":[20,0],"nice":false,"zero":false},"axis":null},"y2":{"field":"y1"}}},
{"data":{"values":[{"t":"TELEFONICA Diario 3,405 -1,99 % 23 sept 2026, 9:31:00"}]},"mark":{"type":"text","align":"left","baseline":"middle","fontWeight":"bold","fontSize":12,"color":"#111111"},"encoding":{"x":{"datum":3.4,"axis":null},"y":{"datum":9.7,"axis":null},"text":{"field":"t"}}},
{"data":{"values":[{"t":"www.ProRealTime.com"}]},"mark":{"type":"text","align":"right","baseline":"middle","fontWeight":"bold","fontSize":12,"color":"#111111"},"encoding":{"x":{"datum":365.8,"axis":null},"y":{"datum":9.7,"axis":null},"text":{"field":"t"}}}
]},
{"width":1727,"height":640,"view":{"fill":"#f5f4f2","stroke":"#b4b4b4"},"layer":[
{"data":{"values":[{"p":1}]},"mark":{"type":"rect","fill":"#f8e7e3","stroke":"#ffa898","strokeWidth":1,"strokeDash":[5,5]},"encoding":{"x":{"datum":65.9,"scale":{"domain":[-0.786,356.3],"nice":false,"zero":false,"padding":0},"axis":null},"x2":{"datum":102},"y":{"datum":3.342,"scale":{"type":"log","domain":[3.0626,3.9825],"nice":false,"padding":0},"axis":{"title":null,"orient":"right","labelOverlap":"greedy","labelOffset":-1.2,"values":[3.1,3.15,3.2,3.25,3.3,3.35,3.4,3.45,3.5,3.55,3.6,3.65,3.7,3.75,3.8,3.85,3.9,3.95],"labelExpr":"replace(format(datum.value,'.2~f'),'.',',')"}},"y2":{"datum":3.112}}},
{"data":{"name":"ohlc"},"mark":{"type":"rule","strokeWidth":1,"clip":true},"encoding":{"x":{"field":"i","type":"quantitative","axis":null},"y":{"field":"h","type":"quantitative"},"y2":{"field":"l"},"color":{"condition":{"test":"datum.c>=datum.o","value":"#1f8f28"},"value":"#c8141c"}}},
{"data":{"name":"ohlc"},"mark":{"type":"bar","orient":"vertical","size":3.4,"strokeWidth":0.8,"clip":true},"encoding":{"x":{"field":"i","type":"quantitative","axis":null},"y":{"field":"o","type":"quantitative"},"y2":{"field":"c"},"fill":{"condition":{"test":"datum.c>=datum.o","value":"#22a82a"},"value":"#e6282c"},"stroke":{"condition":{"test":"datum.c>=datum.o","value":"#118a1a"},"value":"#c8101a"}}},
{"data":{"values":[{"x":197.1,"x2":200,"y":3.772,"y2":3.555},{"x":206.1,"x2":208.95,"y":3.555,"y2":3.348}]},"mark":{"type":"rect","fill":"#2255ff","fillOpacity":0.13,"stroke":"#9ab8f8","strokeWidth":1.2},"encoding":{"x":{"field":"x","type":"quantitative","axis":null},"x2":{"field":"x2"},"y":{"field":"y","type":"quantitative"},"y2":{"field":"y2"}}},
{"data":{"name":"levelsA"},"mark":{"type":"rect","fill":"#f5f4f2","stroke":"#1a1af0","strokeWidth":1},"encoding":{"x":{"datum":349.1,"axis":null},"x2":{"datum":356.3},"y":{"field":"level","type":"quantitative"},"y2":{"field":"top"}}},
{"data":{"name":"levelsA"},"mark":{"type":"text","fontWeight":"bold","fontSize":12,"color":"#1a1af0","baseline":"middle"},"encoding":{"x":{"datum":352.7,"axis":null},"y":{"field":"mid","type":"quantitative"},"text":{"field":"t"}}},
{"data":{"name":"levelsB"},"mark":{"type":"rect","fill":"#f5f4f2","stroke":"#1a1af0","strokeWidth":1},"encoding":{"x":{"datum":349.1,"axis":null},"x2":{"datum":356.3},"y":{"field":"level","type":"quantitative"},"y2":{"field":"top"}}},
{"data":{"name":"levelsB"},"mark":{"type":"text","fontWeight":"bold","fontSize":12,"color":"#1a1af0","baseline":"middle"},"encoding":{"x":{"datum":352.7,"axis":null},"y":{"field":"mid","type":"quantitative"},"text":{"field":"t"}}},
{"data":{"name":"levelsA"},"mark":{"type":"rule","color":"#1a1af0","strokeWidth":1.2},"encoding":{"x":{"field":"i0","type":"quantitative","axis":null},"x2":{"datum":356.3},"y":{"field":"level","type":"quantitative"}}},
{"data":{"name":"levelsB"},"mark":{"type":"rule","color":"#1a1af0","strokeWidth":1.2},"encoding":{"x":{"field":"i0","type":"quantitative","axis":null},"x2":{"datum":356.3},"y":{"field":"level","type":"quantitative"}}},
{"data":{"values":[{"p":1}]},"mark":{"type":"rule","color":"#1a1af0","strokeWidth":1.2},"encoding":{"x":{"datum":178,"axis":null},"y":{"datum":3.442},"y2":{"datum":3.46}}},
{"data":{"values":[{"p":1}]},"mark":{"type":"rect","fill":"#f9f5f3","stroke":"#ffb9a8","strokeWidth":1.2},"encoding":{"x":{"datum":102.2,"axis":null},"x2":{"datum":111.7},"y":{"datum":3.2465},"y2":{"datum":3.2055}}},
{"data":{"values":[{"t":"-0,230","p":3.2345},{"t":"-6,88 %","p":3.215}]},"mark":{"type":"text","align":"left","baseline":"middle","fontWeight":"bold","fontSize":12,"color":"#ff9a8a"},"encoding":{"x":{"datum":102.7,"axis":null},"y":{"field":"p","type":"quantitative"},"text":{"field":"t"}}},
{"data":{"values":[{"p":1}]},"mark":{"type":"rect","fill":"#f5f4f2","stroke":"#c8c8c8","strokeWidth":1},"encoding":{"x":{"datum":-0.58,"axis":null},"x2":{"datum":10.8},"y":{"datum":3.9825},"y2":{"datum":3.9532}}},
{"data":{"values":[{"p":1}]},"mark":{"type":"rect","fill":"#22a82a"},"encoding":{"x":{"datum":-0.37,"axis":null},"x2":{"datum":0.7},"y":{"datum":3.976},"y2":{"datum":3.958}}},
{"data":{"values":[{"p":1}]},"mark":{"type":"rect","fill":"#e6282c"},"encoding":{"x":{"datum":0.7,"axis":null},"x2":{"datum":1.82},"y":{"datum":3.976},"y2":{"datum":3.958}}},
{"data":{"values":[{"t":"Precio"}]},"mark":{"type":"text","align":"left","baseline":"middle","dy":-1,"fontWeight":"bold","fontSize":12,"color":"#111111"},"encoding":{"x":{"datum":2.73,"axis":null},"y":{"datum":3.9679},"text":{"field":"t"}}},
{"data":{"values":[{"t":"ProRealTime.com  Datos históricos ajustados a los dividendos"}]},"mark":{"type":"text","align":"left","baseline":"middle","dy":-0.8,"fontSize":10.2,"color":"#222222"},"encoding":{"x":{"datum":-0.4,"axis":null},"y":{"datum":3.0688},"text":{"field":"t"}}},
{"data":{"values":[{"p":1}]},"mark":{"type":"rect","fill":"#f5c400","stroke":"#c8c8c8","strokeWidth":1},"encoding":{"x":{"datum":357.3,"axis":null},"x2":{"datum":364},"y":{"datum":3.4165},"y2":{"datum":3.3955}}},
{"data":{"values":[{"t":"3,405"}]},"mark":{"type":"text","align":"center","baseline":"middle","fontWeight":"bold","fontSize":12,"color":"#111111"},"encoding":{"x":{"datum":360.65,"axis":null},"y":{"datum":3.405},"text":{"field":"t"}}}
]},
{"width":1727,"height":91,"view":{"fill":"#f5f4f2","stroke":"#b4b4b4"},"layer":[
{"data":{"name":"ind"},"mark":{"type":"bar","orient":"vertical","size":3.7,"color":"#ff0000"},"encoding":{"x":{"field":"i","type":"quantitative","scale":{"domain":[-0.786,356.3],"nice":false,"zero":false,"padding":0},"axis":null},"y":{"field":"a","type":"quantitative","scale":{"domain":[1.309,2.934],"nice":false,"zero":false},"axis":{"title":null,"orient":"right","labelOverlap":"greedy","labelOffset":-1,"values":[1.5,2,2.5],"labelExpr":"replace(format(datum.value,'.1~f'),'.',',')"}},"y2":{"datum":1.309}}},
{"data":{"values":[{"p":1}]},"mark":{"type":"rect","fill":"#f5f4f2","stroke":"#c8c8c8","strokeWidth":1},"encoding":{"x":{"datum":-0.58,"axis":null},"x2":{"datum":21.55},"y":{"datum":2.904},"y2":{"datum":2.595}}},
{"data":{"values":[{"p":1}]},"mark":{"type":"rect","fill":"#ff0000"},"encoding":{"x":{"datum":-0.37,"axis":null},"x2":{"datum":1.82},"y":{"datum":2.845},"y2":{"datum":2.648}}},
{"data":{"values":[{"t":"ATR Porcentaje"}]},"mark":{"type":"text","align":"left","baseline":"middle","dy":-1,"fontWeight":"bold","fontSize":12,"color":"#111111"},"encoding":{"x":{"datum":2.73,"axis":null},"y":{"datum":2.755},"text":{"field":"t"}}},
{"data":{"values":[{"p":1}]},"mark":{"type":"rect","fill":"#eeeeee","stroke":"#c0c0c0","strokeWidth":1},"encoding":{"x":{"datum":357.3,"axis":null},"x2":{"datum":365.4},"y":{"datum":2.258},"y2":{"datum":1.98}}},
{"data":{"values":[{"t":"2,1309"}]},"mark":{"type":"text","align":"center","baseline":"middle","fontWeight":"bold","fontSize":12,"color":"#ff0000"},"encoding":{"x":{"datum":361.35,"axis":null},"y":{"datum":2.1309},"text":{"field":"t"}}}
]},
{"width":1727,"height":111,"view":{"fill":"#f5f4f2","stroke":"#b4b4b4"},"layer":[
{"data":{"name":"ind"},"mark":{"type":"bar","orient":"vertical","size":3.7},"encoding":{"x":{"field":"i","type":"quantitative","scale":{"domain":[-0.786,356.3],"nice":false,"zero":false,"padding":0},"axis":null},"y":{"field":"h","type":"quantitative","scale":{"domain":[-258,174],"nice":false,"zero":false},"axis":{"title":null,"orient":"right","labelOverlap":"greedy","values":[100,0,-100,-200]}},"y2":{"datum":0},"color":{"condition":{"test":"datum.h>=0","value":"#45d045"},"value":"#ff8a3a"}}},
{"data":{"values":[{"y":50},{"y":-50}]},"mark":{"type":"rule","color":"#c4d4ff","strokeWidth":1.5,"strokeDash":[5,5]},"encoding":{"x":{"datum":-0.6,"axis":null},"x2":{"datum":238.5},"y":{"field":"y","type":"quantitative"}}},
{"data":{"values":[{"y":151.7}]},"mark":{"type":"rule","color":"#f08a8a","strokeWidth":1.5,"strokeDash":[3,4]},"encoding":{"x":{"datum":-0.6,"axis":null},"x2":{"datum":238.5},"y":{"field":"y","type":"quantitative"}}},
{"data":{"values":[{"y":-150}]},"mark":{"type":"rule","color":"#35c435","strokeWidth":1.2,"strokeDash":[5,4]},"encoding":{"x":{"datum":-0.6,"axis":null},"x2":{"datum":238.5},"y":{"field":"y","type":"quantitative"}}},
{"data":{"values":[{"y":0}]},"mark":{"type":"rule","color":"#4a66dd","strokeWidth":1.2},"encoding":{"x":{"datum":-0.6,"axis":null},"x2":{"datum":238.5},"y":{"field":"y","type":"quantitative"}}},
{"data":{"name":"ind"},"mark":{"type":"line","color":"#222222","strokeWidth":1,"strokeDash":[3,3]},"encoding":{"x":{"field":"i","type":"quantitative","axis":null},"y":{"field":"s","type":"quantitative"}}},
{"data":{"name":"ind"},"mark":{"type":"line","color":"#ea3a3a","strokeWidth":2},"encoding":{"x":{"field":"i","type":"quantitative","axis":null},"y":{"field":"m","type":"quantitative"}}},
{"data":{"values":[{"p":1}]},"mark":{"type":"rect","fill":"#f5f4f2","stroke":"#c8c8c8","strokeWidth":1},"encoding":{"x":{"datum":-0.58,"axis":null},"x2":{"datum":12.45},"y":{"datum":166.5},"y2":{"datum":104}}},
{"data":{"values":[{"a":-0.37,"b":0.2,"s":"a"},{"a":0.2,"b":0.75,"s":"b"},{"a":0.75,"b":1.3,"s":"c"},{"a":1.3,"b":1.82,"s":"d"}]},"mark":{"type":"rect"},"encoding":{"x":{"field":"a","type":"quantitative","axis":null},"x2":{"field":"b"},"y":{"datum":155},"y2":{"datum":112},"color":{"field":"s","type":"nominal","legend":null,"scale":{"domain":["a","b","c","d"],"range":["#444444","#e03a3a","#4a66dd","#45d045"]}}}},
{"data":{"values":[{"t":"MACD-v"}]},"mark":{"type":"text","align":"left","baseline":"middle","dy":-1,"fontWeight":"bold","fontSize":12,"color":"#111111"},"encoding":{"x":{"datum":2.73,"axis":null},"y":{"datum":135},"text":{"field":"t"}}},
{"data":{"values":[{"p":1}]},"mark":{"type":"rect","fill":"#eeeeee","stroke":"#c0c0c0","strokeWidth":1},"encoding":{"x":{"datum":357.3,"axis":null},"x2":{"datum":366},"y":{"datum":-12.5},"y2":{"datum":-71}}},
{"data":{"values":[{"t":"-42,707"}]},"mark":{"type":"text","align":"center","baseline":"middle","fontWeight":"bold","fontSize":12,"color":"#ee2222"},"encoding":{"x":{"datum":361.65,"axis":null},"y":{"datum":-42.7},"text":{"field":"t"}}}
]},
{"width":1727,"height":105,"view":{"fill":"#f5f4f2","stroke":"#b4b4b4"},"layer":[
{"data":{"name":"ind"},"mark":{"type":"area","color":"#d0dcf6"},"encoding":{"x":{"field":"i","type":"quantitative","scale":{"domain":[-0.786,356.3],"nice":false,"zero":false,"padding":0},"axis":{"title":null,"orient":"bottom","labelOverlap":"greedy","values":[6,13,20,27,34,41,48,55,62,69,76,83,90,97,104,111,118,125,132,139,146,153,160,167,174,181,188,195,202,209,216,223,230,237,244,251,258,265,272,279,286,293,300,307,314,321,328,335,342,349],"tickSize":3,"labelPadding":3,"labelExpr":"['24','04','13','24','03','12','23','06','15','26','04','13','24','05','16','25','07','16','27','07','18','27','05','16','25','06','15','24','04','13','24','02','11','22','01','12','21','30','10','19','30','09','18','30','08','19','28','08','17','26'][(datum.value-6)/7]"}},"y":{"field":"v","type":"quantitative","scale":{"domain":[0.1068,0.639],"nice":false,"zero":false},"axis":{"title":null,"orient":"right","labelOverlap":"greedy","labelOffset":-1,"values":[0.2,0.3,0.4,0.5,0.6],"labelExpr":"replace(format(datum.value,'.1~f'),'.',',')"}},"y2":{"datum":0.1068}}},
{"data":{"name":"ind"},"mark":{"type":"line","color":"#2222ee","strokeWidth":1.2},"encoding":{"x":{"field":"i","type":"quantitative"},"y":{"field":"v","type":"quantitative"}}},
{"data":{"name":"ind"},"mark":{"type":"point","shape":"square","size":5,"filled":false,"color":"#2222ee","strokeWidth":0.8,"opacity":1},"encoding":{"x":{"field":"i","type":"quantitative"},"y":{"field":"v","type":"quantitative"}}},
{"data":{"values":[{"p":1}]},"mark":{"type":"rect","fill":"#f5f4f2","stroke":"#c8c8c8","strokeWidth":1},"encoding":{"x":{"datum":-0.58},"x2":{"datum":41.8},"y":{"datum":0.634},"y2":{"datum":0.542}}},
{"data":{"values":[{"p":1}]},"mark":{"type":"rect","fill":"#0000ff"},"encoding":{"x":{"datum":-0.37},"x2":{"datum":1.82},"y":{"datum":0.619},"y2":{"datum":0.558}}},
{"data":{"values":[{"t":"Volumen Direccional Ponderado"}]},"mark":{"type":"text","align":"left","baseline":"middle","dy":-1,"fontWeight":"bold","fontSize":12,"color":"#111111"},"encoding":{"x":{"datum":2.73},"y":{"datum":0.588},"text":{"field":"t"}}},
{"data":{"values":[{"p":1}]},"mark":{"type":"rect","fill":"#eeeeee","stroke":"#c0c0c0","strokeWidth":1},"encoding":{"x":{"datum":357.3},"x2":{"datum":365.4},"y":{"datum":0.478},"y2":{"datum":0.402}}},
{"data":{"values":[{"t":"0,4384"}]},"mark":{"type":"text","align":"center","baseline":"middle","fontWeight":"bold","fontSize":12,"color":"#0000ff"},"encoding":{"x":{"datum":361.35},"y":{"datum":0.44},"text":{"field":"t"}}}
]},
{"width":1727,"height":33,"view":{"fill":null,"stroke":null},"layer":[
{"data":{"name":"seps"},"mark":{"type":"rule","color":"#b8b8b8","strokeWidth":1},"encoding":{"x":{"field":"i","type":"quantitative","scale":{"domain":[-0.786,356.3],"nice":false,"zero":false},"axis":null},"y":{"datum":18,"scale":{"domain":[33,0],"nice":false,"zero":false},"axis":null},"y2":{"datum":30}}},
{"data":{"name":"months"},"mark":{"type":"text","align":"center","baseline":"middle","fontWeight":"bold","fontSize":12,"color":"#111111"},"encoding":{"x":{"field":"i","type":"quantitative","axis":null},"y":{"datum":21.5,"axis":null},"text":{"field":"t"}}}
]}
]}
